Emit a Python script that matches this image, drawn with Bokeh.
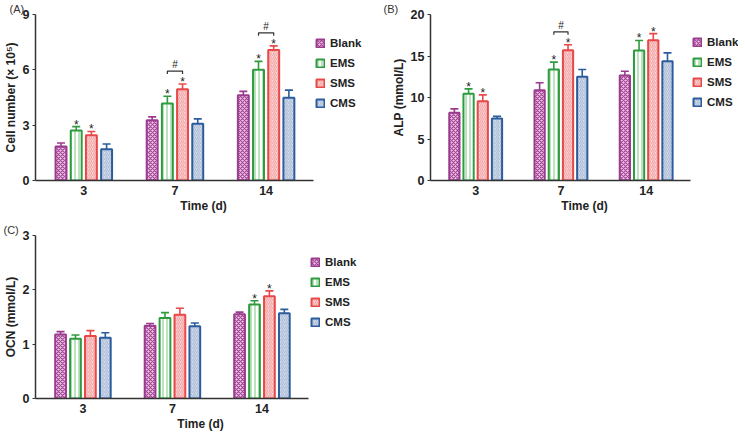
from bokeh.plotting import figure
from bokeh.models import (ColumnDataSource, Range1d, FixedTicker, Whisker, TeeHead,
                          Legend, LegendItem)
from bokeh.layouts import column, row
from bokeh.embed import file_html
from bokeh.resources import INLINE

days = ["3", "7", "14"]
groups = ["Blank", "EMS", "SMS", "CMS"]

# Panel A: cell number (x 10^5)
a_blank = [1.84, 3.27, 4.62]
a_blank_sd = [0.19, 0.18, 0.21]
a_ems = [2.71, 4.17, 6.01]
a_ems_sd = [0.21, 0.40, 0.45]
a_sms = [2.45, 4.95, 7.07]
a_sms_sd = [0.21, 0.28, 0.23]
a_cms = [1.70, 3.08, 4.48]
a_cms_sd = [0.28, 0.26, 0.42]
a_star_ems = [True, True, True]
a_star_sms = [True, True, True]
a_hash = [False, True, True]

# Panel B: ALP (mmol/L)
b_blank = [8.15, 10.88, 12.65]
b_blank_sd = [0.48, 0.89, 0.52]
b_ems = [10.44, 13.37, 15.66]
b_ems_sd = [0.60, 0.89, 1.21]
b_sms = [9.56, 15.70, 16.90]
b_sms_sd = [0.76, 0.65, 0.80]
b_cms = [7.47, 12.49, 14.38]
b_cms_sd = [0.28, 0.88, 1.00]
b_star_ems = [True, True, True]
b_star_sms = [True, True, True]
b_hash = [False, True, False]

# Panel C: OCN (mmol/L)
c_blank = [1.18, 1.34, 1.55]
c_blank_sd = [0.05, 0.04, 0.04]
c_ems = [1.10, 1.48, 1.73]
c_ems_sd = [0.07, 0.10, 0.07]
c_sms = [1.15, 1.54, 1.88]
c_sms_sd = [0.10, 0.12, 0.10]
c_cms = [1.12, 1.33, 1.57]
c_cms_sd = [0.09, 0.06, 0.07]
c_star_ems = [False, False, True]
c_star_sms = [False, False, True]
c_hash = [False, False, False]

FONT = "Liberation Sans"
STYLES = {
    "Blank": dict(line="#9B3B8E", fill="#F3C4E8", hatch="diagonal_cross", hcolor="#A04894", hscale=4.0),
    "EMS": dict(line="#2E9B3E", fill="#FFFFFF", hatch="vertical_line", hcolor="#8FCF95", hscale=4.0),
    "SMS": dict(line="#E84848", fill="#FBD6D6", hatch="right_diagonal_line", hcolor="#F2A9A9", hscale=4.0),
    "CMS": dict(line="#2B5C9C", fill="#D6DEEC", hatch="right_diagonal_line", hcolor="#AFBFD8", hscale=4.0),
}
OFFS = [-0.25, -0.0833, 0.0833, 0.25]
BW = 0.12
X0, X1 = -0.53, 2.52


def make_panel(tag, tag_offset, ylabel, ymax, yticks, means, sds, star_ems, star_sms, hashes,
               fw, lw, fh, mb, legend_top):
    left, top, bottom = mb
    ppu_x = fw / (X1 - X0)
    p = figure(frame_width=fw + lw, frame_height=fh, output_backend="svg", toolbar_location=None,
               x_range=Range1d(X0, X1 + lw / ppu_x), y_range=Range1d(0, ymax),
               min_border_left=left, min_border_right=0,
               min_border_top=top, min_border_bottom=bottom)
    p.grid.visible = False
    p.outline_line_color = None
    p.background_fill_color = "white"
    p.border_fill_color = "white"

    # panel tag as title
    p.title.text = tag
    p.title.align = "left"
    p.title.offset = -left + tag_offset
    p.title.standoff = 0
    p.title.text_font = FONT
    p.title.text_font_style = "normal"
    p.title.text_font_size = "11px"
    p.title.text_color = "#333333"

    px_per_unit = fh / ymax

    items = []
    for gi, g in enumerate(groups):
        st = STYLES[g]
        xs = [i + OFFS[gi] for i in range(len(days))]
        upper = [m + s for m, s in zip(means[gi], sds[gi])]
        src = ColumnDataSource(dict(x=xs, top=means[gi], upper=upper))
        w = Whisker(base="x", upper="upper", lower="top", source=src,
                    line_color=st["line"], line_width=1.6,
                    upper_head=TeeHead(size=8, line_color=st["line"], line_width=1.6),
                    lower_head=None)
        p.add_layout(w)
        r = p.vbar(x="x", top="top", width=BW, bottom=0, source=src,
                   fill_color=st["fill"], line_color=st["line"], line_width=2,
                   hatch_pattern=st["hatch"], hatch_color=st["hcolor"],
                   hatch_scale=st["hscale"], hatch_weight=1.2)
        items.append(LegendItem(label=g, renderers=[r]))

    # significance stars
    sx, sy = [], []
    for gi, flags in ((1, star_ems), (2, star_sms)):
        for i, f in enumerate(flags):
            if f:
                sx.append(i + OFFS[gi])
                sy.append(means[gi][i] + sds[gi][i])
    if sx:
        p.text(x=sx, y=sy, text=["*"] * len(sx), text_align="center",
               text_baseline="alphabetic", text_font_size="12px", text_color="#222222",
               y_offset=-2)

    # EMS vs SMS brackets
    bxs, bys, hx, hy = [], [], [], []
    tick = 3 / px_per_unit
    for i, f in enumerate(hashes):
        if f:
            yb = max(means[1][i] + sds[1][i], means[2][i] + sds[2][i]) + 13 / px_per_unit
            x1, x2 = i + OFFS[1], i + OFFS[2]
            bxs.append([x1, x1, x2, x2])
            bys.append([yb - tick, yb, yb, yb - tick])
            hx.append((x1 + x2) / 2)
            hy.append(yb)
    if bxs:
        p.multi_line(xs=bxs, ys=bys, line_color="#333333", line_width=1.2)
        p.text(x=hx, y=hy, text=["#"] * len(hx), text_align="center",
               text_baseline="bottom", text_font_size="10px", text_color="#222222",
               y_offset=-1)

    leg_h = 4 * 14 + 3 * 6
    leg = Legend(items=items, location=(fw + 2, fh - legend_top - leg_h), orientation="vertical",
                 border_line_alpha=0, background_fill_alpha=0,
                 label_text_font=FONT, label_text_font_style="bold",
                 label_text_font_size="11.5px", label_text_color="#222222",
                 glyph_width=10, glyph_height=10, label_height=14, label_standoff=5,
                 spacing=6, padding=0, margin=0)
    p.add_layout(leg, "center")

    # axes
    xa = p.xaxis[0]
    xa.bounds = (X0, X1)
    xa.ticker = FixedTicker(ticks=[0, 1, 2])
    xa.major_label_overrides = {0: days[0], 1: days[1], 2: days[2]}
    xa.axis_label = "Time (d)"
    xa.major_tick_out = 0
    xa.major_tick_in = 0
    xa.minor_tick_out = 0
    xa.major_label_standoff = 5
    xa.axis_label_standoff = 1

    ya = p.yaxis[0]
    ya.ticker = FixedTicker(ticks=yticks)
    ya.axis_label = ylabel
    ya.major_tick_out = 3
    ya.major_tick_in = 0
    ya.minor_tick_out = 0
    ya.minor_tick_in = 0
    ya.major_label_standoff = 3
    ya.axis_label_standoff = 2

    for ax in (xa, ya):
        ax.axis_line_width = 1.5
        ax.axis_line_color = "#333333"
        ax.major_tick_line_color = "#333333"
        ax.major_tick_line_width = 1.2
        ax.major_label_text_font = FONT
        ax.major_label_text_font_style = "bold"
        ax.major_label_text_font_size = "12.5px"
        ax.major_label_text_color = "#222222"
        ax.axis_label_text_font = FONT
        ax.axis_label_text_font_style = "bold"
        ax.axis_label_text_font_size = "12px"
        ax.axis_label_text_color = "#222222"
    return p


pA = make_panel("(A)", 0, "Cell number (\u00d7 10\u2075)", 9, [0, 3, 6, 9],
                [a_blank, a_ems, a_sms, a_cms], [a_blank_sd, a_ems_sd, a_sms_sd, a_cms_sd],
                a_star_ems, a_star_sms, a_hash,
                278, 58, 166, (26, 6, 41), 22)
pB = make_panel("(B)", 12, "ALP (mmol/L)", 20, [0, 5, 10, 15, 20],
                [b_blank, b_ems, b_sms, b_cms], [b_blank_sd, b_ems_sd, b_sms_sd, b_cms_sd],
                b_star_ems, b_star_sms, b_hash,
                260, 48, 166, (59, 7, 39), 21)
pC = make_panel("(C)", 0, "OCN (mmol/L)", 3, [0, 1, 2, 3],
                [c_blank, c_ems, c_sms, c_cms], [c_blank_sd, c_ems_sd, c_sms_sd, c_cms_sd],
                c_star_ems, c_star_sms, c_hash,
                273, 57, 163, (32, 14, 34), 20)

layout = column(row(pA, pB), pC)
open("out.html", "w").write(file_html(layout, INLINE))
